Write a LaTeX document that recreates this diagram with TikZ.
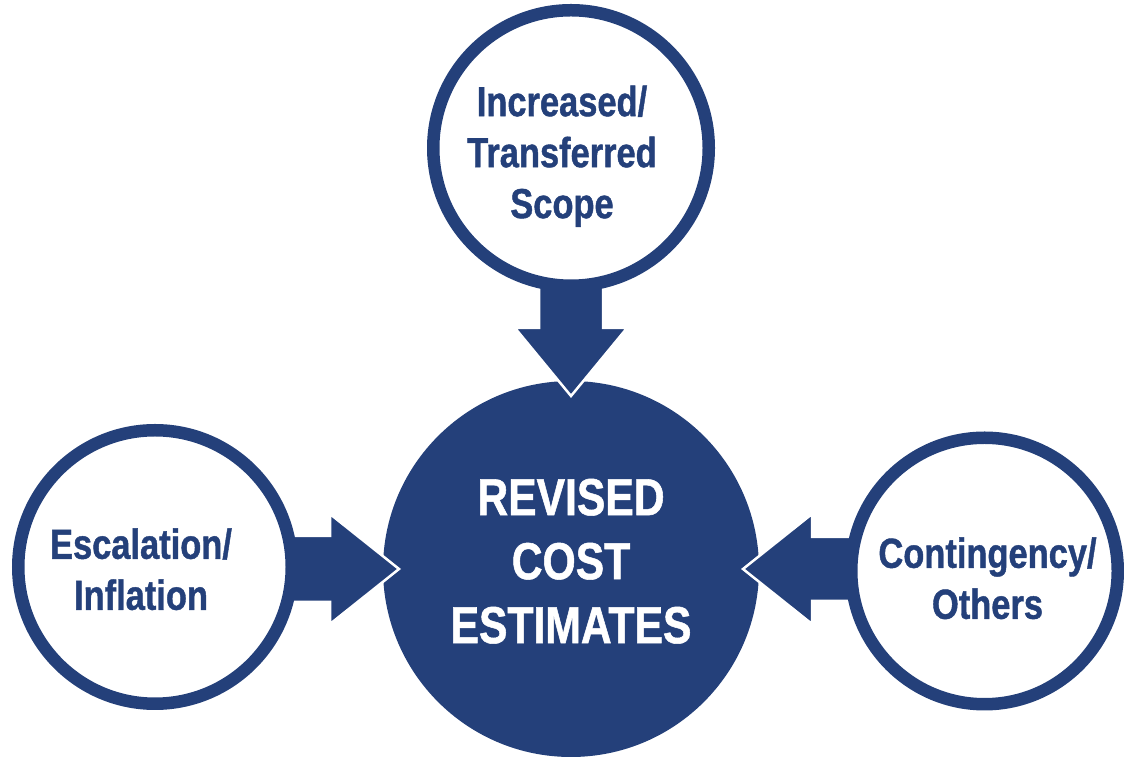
\documentclass[tikz,border=0pt]{standalone}
\usepackage{fontspec}
\newfontfamily\narrowfont[FakeStretch=0.82,FakeBold=1]{Liberation Sans}
\usetikzlibrary{calc}
\definecolor{navy}{RGB}{36,64,122}
\pgfdeclarelayer{bglayer}
\pgfdeclarelayer{midlayer}
\pgfsetlayers{bglayer,midlayer,main}
\tikzset{
  outercircle/.style={circle, draw=navy, line width=12.5pt, fill=white, inner sep=0pt, outer sep=0pt,
    text=navy, align=center, font=\narrowfont\bfseries\fontsize{42}{51}\selectfont},
  centercircle/.style={circle, fill=navy, draw=none, inner sep=0pt, outer sep=0pt, minimum size=376pt,
    text=white, align=center, font=\narrowfont\bfseries\fontsize{52}{64}\selectfont},
  bigarrow/.style={fill=navy, draw=white, line width=2.5pt, line join=miter}
}
\begin{document}
\begin{tikzpicture}[x=1pt,y=1pt]
\useasboundingbox (0,0) rectangle (1124,757);
\begin{pgfonlayer}{bglayer}
\node[centercircle] (rev) at (571,188) {REVISED\\COST\\ESTIMATES\rule[-16pt]{0pt}{16pt}};
\end{pgfonlayer}
\node[outercircle, minimum size=275.5pt] (T) at (571,609)
  {\rule{0pt}{47pt}Increased/\kern18pt\\Transferred\kern18pt\\Scope\kern18pt};
\node[outercircle, minimum size=273.5pt] (L) at (155,190)
  {\rule{0pt}{35pt}Escalation/\kern28pt\\Inflation\kern28pt};
\node[outercircle, minimum size=266.5pt] (R) at (984.5,186)
  {\rule{0pt}{45pt}\kern6pt Contingency/\\\kern6pt Others};
\coordinate (tT) at ($(rev.north)+(0,-15)$);
\coordinate (tL) at ($(rev.west)+(16,0)$);
\coordinate (tR) at ($(rev.east)+(-16,0)$);
\begin{pgfonlayer}{midlayer}
\draw[bigarrow] let \p1=(tT), \p2=(T.center) in
  (tT) -- (\x1-56,\y1+68) -- (\x1-32,\y1+68) -- (\x1-32,\y2) -- (\x1+32,\y2)
  -- (\x1+32,\y1+68) -- (\x1+56,\y1+68) -- cycle;
\draw[bigarrow] let \p1=(tL), \p2=(L.center) in
  (tL) -- (\x1-69,\y1+55) -- (\x1-69,\y1+33) -- (\x2,\y1+33) -- (\x2,\y1-33)
  -- (\x1-69,\y1-33) -- (\x1-69,\y1-55) -- cycle;
\draw[bigarrow] let \p1=(tR), \p2=(R.center) in
  (tR) -- (\x1+69,\y1+55) -- (\x1+69,\y1+32) -- (\x2,\y1+32) -- (\x2,\y1-32)
  -- (\x1+69,\y1-32) -- (\x1+69,\y1-55) -- cycle;
\end{pgfonlayer}
\end{tikzpicture}
\end{document}
